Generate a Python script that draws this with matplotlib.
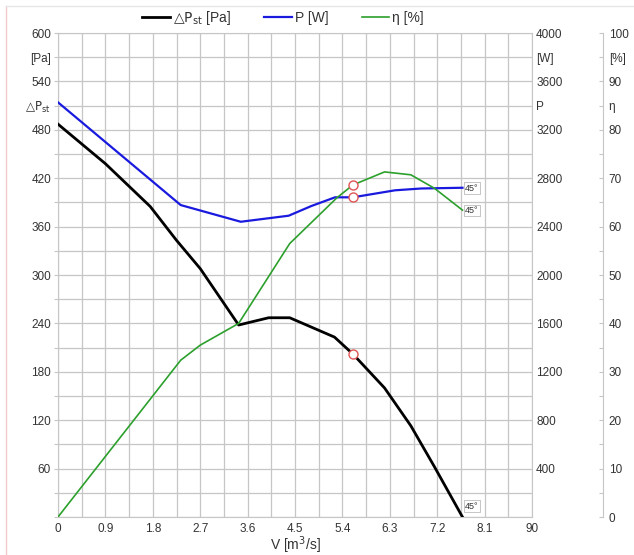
import matplotlib

matplotlib.use("Agg")

import matplotlib.pyplot as plt
import numpy as np
from matplotlib.lines import Line2D

plt.rcParams["font.family"] = ["Liberation Sans", "DejaVu Sans"]
plt.rcParams["mathtext.fontset"] = "custom"
plt.rcParams["mathtext.rm"] = "DejaVu Sans"
plt.rcParams["mathtext.it"] = "DejaVu Sans:italic"

# ---------------------------------------------------------------------------
# Data (45° blade angle)
# ---------------------------------------------------------------------------
v_dp = [0.0, 0.9, 1.75, 2.25, 2.7, 3.43, 4.0, 4.4, 5.25, 5.6, 6.2, 6.7, 7.15, 7.68]
dp_pa = [487, 438, 385, 343, 308, 238, 247, 247, 223, 202, 160, 113, 62, 0]

v_pw = [0.0, 2.33, 3.47, 4.38, 4.81, 5.26, 5.6, 6.4, 6.9, 7.68]
p_w = [3427, 2578, 2440, 2490, 2570, 2642, 2642, 2700, 2715, 2721]

v_eta = [0.0, 2.33, 2.7, 3.43, 4.4, 5.3, 5.6, 6.2, 6.7, 7.15, 7.68]
eta_pct = [0.0, 32.4, 35.5, 40.0, 56.5, 66.0, 68.6, 71.3, 70.7, 67.9, 63.4]

v_op = 5.6  # operating point
dp_op, p_op, eta_op = 202, 2642, 68.6

x_ticks = [round(0.45 * i, 2) for i in range(21)]
x_labels = ["0", "0.9", "1.8", "2.7", "3.6", "4.5", "5.4", "6.3", "7.2", "8.1", "90"]

GRID = "#c6c6c6"
TXT = "#333333"
DP_LABEL = r"$\mathrm{△P_{st}}$"

fig = plt.figure(figsize=(6.34, 5.55), dpi=100)
ax = fig.add_axes([58 / 634, 38 / 555, 474 / 634, 484 / 555])

# page decoration
fig.add_artist(Line2D([6 / 634, 6 / 634], [0, 549 / 555], color="#f2caca", lw=1.0))
fig.add_artist(Line2D([6 / 634, 1], [549 / 555, 549 / 555], color="#e6e6e6", lw=1.0))

# ---------------------------------------------------------------------------
# main axis: static pressure
# ---------------------------------------------------------------------------
ax.set_xlim(0, 9.0)
ax.set_ylim(0, 600)
ax.set_xticks(x_ticks)
ax.set_xticklabels([x_labels[i // 2] if i % 2 == 0 else "" for i in range(21)])
yt = list(range(0, 601, 30))
ylab = []
for v in yt:
    if v == 570:
        ylab.append("[Pa]")
    elif v == 510:
        ylab.append(DP_LABEL)
    elif v % 60 == 0 and v > 0:
        ylab.append(str(v))
    else:
        ylab.append("")
ax.set_yticks(yt)
ax.set_yticklabels(ylab)
for lbl in ax.get_yticklabels():
    if "P" in lbl.get_text():
        lbl.set_fontsize(12)
ax.grid(True, color=GRID, lw=0.9)
ax.tick_params(axis="x", length=0, labelsize=8.5, colors=TXT, pad=4)
ax.tick_params(axis="y", length=3, color=GRID, labelsize=8.5, colors=TXT, pad=2)
for s in ax.spines.values():
    s.set_color(GRID)
ax.set_xlabel(r"V [m$^3$/s]", fontsize=10, color=TXT, labelpad=0)

ax.plot(v_dp, dp_pa, color="black", lw=2.0, zorder=3)
ax.plot([v_op], [dp_op], "o", ms=6.5, mfc="white", mec="#e05555", mew=1.0, zorder=4)

# ---------------------------------------------------------------------------
# power axis
# ---------------------------------------------------------------------------
ax_p = ax.twinx()
ax_p.set_ylim(0, 4000)
pt = list(range(0, 4001, 200))
plab = []
for v in pt:
    if v == 3800:
        plab.append("[W]")
    elif v == 3400:
        plab.append("P")
    elif v % 400 == 0 and v > 0:
        plab.append(str(v))
    else:
        plab.append("")
ax_p.set_yticks(pt)
ax_p.set_yticklabels(plab)
for lbl in ax_p.get_yticklabels():
    if lbl.get_text() == "P":
        lbl.set_fontsize(11)
ax_p.tick_params(axis="y", length=0, labelsize=8.5, colors=TXT, pad=3)
for s in ax_p.spines.values():
    s.set_visible(False)
ax_p.plot(v_pw, p_w, color="#1a1adf", lw=1.6)
ax_p.plot([v_op], [p_op], "o", ms=6.5, mfc="white", mec="#e05555", mew=1.0)

# ---------------------------------------------------------------------------
# efficiency axis
# ---------------------------------------------------------------------------
ax_e = ax.twinx()
ax_e.set_ylim(0, 100)
ax_e.spines["right"].set_position(("axes", 1.15))
for k in ("top", "left", "bottom"):
    ax_e.spines[k].set_visible(False)
ax_e.spines["right"].set_color(GRID)
et = list(range(0, 101, 5))
elab = []
for v in et:
    if v == 95:
        elab.append("[%]")
    elif v == 85:
        elab.append("η")
    elif v % 10 == 0:
        elab.append(str(v))
    else:
        elab.append("")
ax_e.set_yticks(et)
ax_e.set_yticklabels(elab)
for lbl in ax_e.get_yticklabels():
    if lbl.get_text() == "η":
        lbl.set_fontsize(13)
ax_e.tick_params(axis="y", direction="in", length=3, color=GRID, labelsize=8.5, colors=TXT, pad=4)
ax_e.plot(v_eta, eta_pct, color="#2ca02c", lw=1.2)
ax_e.plot([v_op], [eta_op], "o", ms=6.5, mfc="white", mec="#e05555", mew=1.0)

# blade angle tags
box = dict(boxstyle="square,pad=0.15", fc="white", ec="#bbbbbb", lw=0.6)
ax.annotate("45°", (v_dp[-1], dp_pa[-1]), xytext=(2, 6), textcoords="offset points",
            fontsize=6.5, color=TXT, bbox=box)
ax_p.annotate("45°", (v_pw[-1], p_w[-1]), xytext=(2, -2), textcoords="offset points",
              fontsize=6.5, color=TXT, bbox=box)
ax_e.annotate("45°", (v_eta[-1], eta_pct[-1]), xytext=(2, -2), textcoords="offset points",
              fontsize=6.5, color=TXT, bbox=box)

handles = [
    Line2D([], [], color="black", lw=2.0),
    Line2D([], [], color="#1a1adf", lw=1.6),
    Line2D([], [], color="#2ca02c", lw=1.2),
]
fig.legend(handles, [DP_LABEL + " [Pa]", "P [W]", "η [%]"],
           loc="center", bbox_to_anchor=(283 / 634, 1 - 18 / 555), ncol=3,
           frameon=False, fontsize=10, handlelength=2.0, handletextpad=0.2,
           columnspacing=2.4, labelcolor=TXT)

fig.savefig("out.png", dpi=100)
